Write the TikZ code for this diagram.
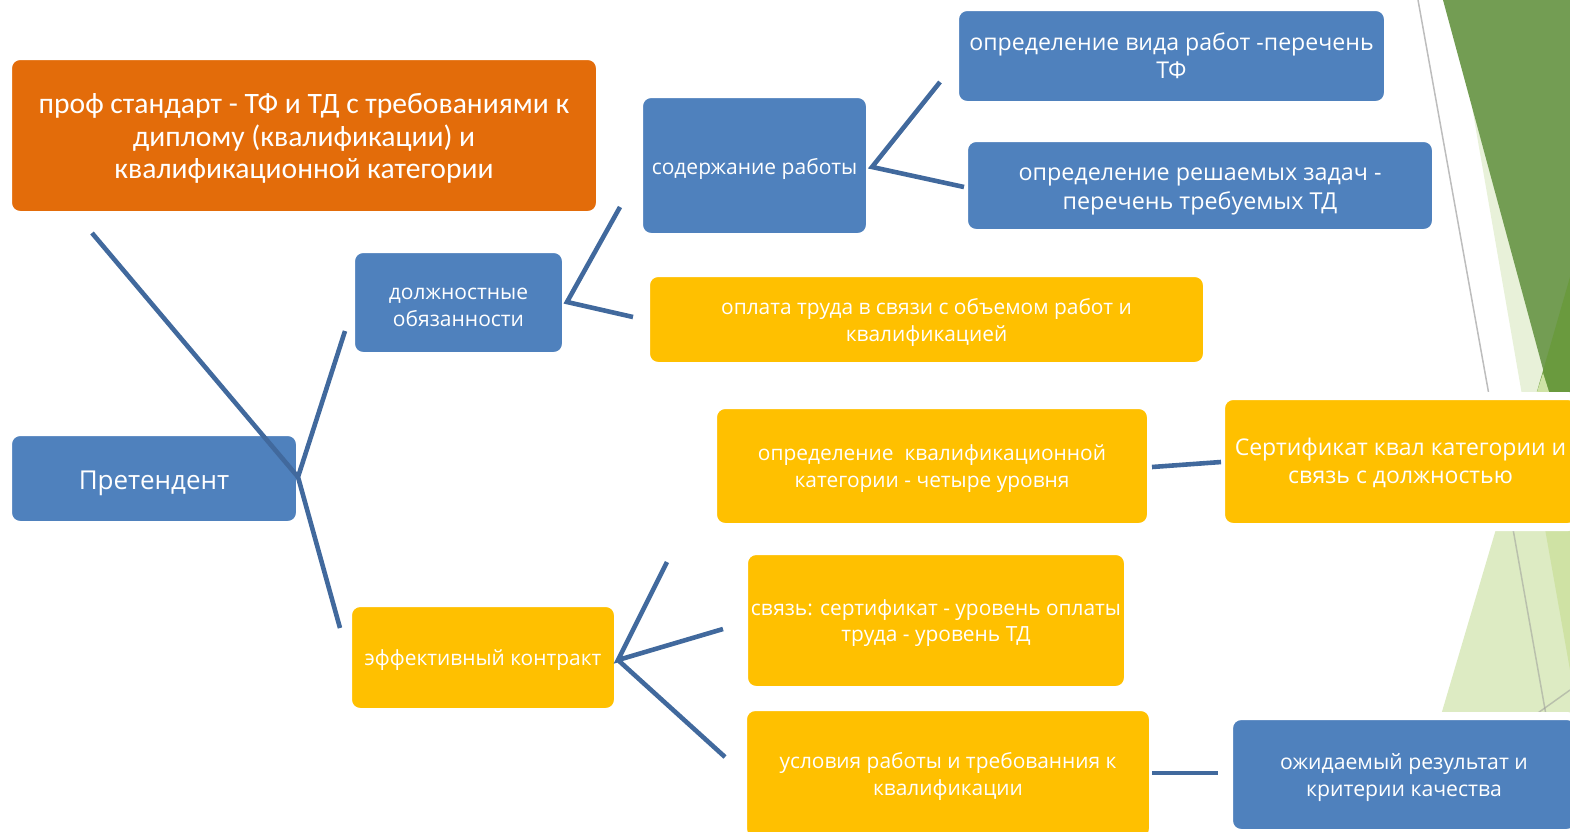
\documentclass[tikz,border=0pt]{standalone}
\usepackage{fontspec}
\setmainfont{Carlito}
\newfontfamily\osf{Open Sans}
\definecolor{bbox}{HTML}{4F81BD}
\definecolor{obox}{HTML}{E36C0A}
\definecolor{ybox}{HTML}{FFC000}
\definecolor{lnk}{HTML}{41699D}
\definecolor{gM}{HTML}{739D53}
\definecolor{gD}{HTML}{6A9A3E}
\definecolor{gL}{HTML}{E8F1D9}
\definecolor{gLL}{HTML}{CFE3A5}
\definecolor{gB}{HTML}{DDEBC3}
\definecolor{gB2}{HTML}{CFE2A4}
\definecolor{gline}{HTML}{BDBDBD}
\tikzset{
  box/.style={draw=white, line width=8pt, rounded corners=12pt, text=white,
    align=center, inner sep=0pt},
  bluebox/.style={box, fill=bbox},
  orbox/.style={box, fill=obox},
  yelbox/.style={box, fill=ybox},
  conn/.style={draw=lnk, line width=4.6pt}
}
\newcommand{\fs}[2]{\fontsize{#1}{#2}\selectfont}
\newcommand{\os}[2]{\osf\fontsize{#1}{#2}\selectfont}
\newcommand{\st}{\rule{0pt}{1.05em}}
\newcommand{\sto}{\rule{0pt}{0.88em}}
\begin{document}
\begin{tikzpicture}[x=1pt,y=-1pt]
\useasboundingbox (0,0) rectangle (1570,831);
\clip (0,0) rectangle (1570,831);
% background decoration
\fill[gL] (1472,107) -- (1552,395) -- (1522,395) -- cycle;
\fill[gM] (1443,0) -- (1570,0) -- (1570,395) -- (1550,395) -- cycle;
\fill[gD] (1570,277) -- (1536,395) -- (1570,395) -- cycle;
\fill[gLL] (1543,373) -- (1550,395) -- (1536,395) -- cycle;
\fill[gB] (1496,529) -- (1570,529) -- (1570,715) -- (1441,715) -- cycle;
\fill[gB2] (1545,529) -- (1570,529) -- (1570,670) -- cycle;
\draw[gline, line width=1.5pt] (1418,0) -- (1489,395);
\draw[gline!80!black, opacity=0.5, line width=1.5pt] (1513,529) -- (1546,715);
\draw[gline!80!black, opacity=0.5, line width=1.5pt] (1535,715) -- (1570,690);
% nodes
\node[orbox, minimum width=592, minimum height=159, font=\fs{29.6}{32.5}] (prof) at (304,135.5)
  {\sto проф стандарт - ТФ и ТД с требованиями к\\диплому (квалификации) и\\квалификационной категории};
\node[bluebox, minimum width=292, minimum height=93, font=\os{26}{30}] (pret) at (154,478.5)
  {\st Претендент};
\node[bluebox, minimum width=215, minimum height=107, font=\os{21}{27}] (dolzh) at (458.5,302.5)
  {\st должностные\\обязанности};
\node[bluebox, minimum width=231, minimum height=143, font=\os{21}{27}] (soder) at (754.5,165.5)
  {\st содержание работы};
\node[bluebox, minimum width=433, minimum height=98, font=\os{23.1}{28}] (vid) at (1171.5,56)
  {определение вида работ -перечень\\ТФ};
\node[bluebox, minimum width=472, minimum height=95, font=\os{23.3}{29}] (zad) at (1200,185.5)
  {\st определение решаемых задач -\\перечень требуемых ТД};
\node[yelbox, minimum width=561, minimum height=93, font=\os{20.9}{27}] (opl) at (926.5,319.5)
  {\st оплата труда в связи с объемом работ и\\квалификацией};
\node[yelbox, minimum width=438, minimum height=122, font=\os{20.9}{27}] (kval) at (932,466)
  {\st определение\ \ квалификационной\\категории - четыре уровня};
\node[yelbox, minimum width=359, minimum height=131, font=\os{23}{28}] (sert) at (1400.5,461.5)
  {\sto Сертификат квал категории и\\связь с должностью};
\node[yelbox, minimum width=270, minimum height=109, font=\os{20.9}{27}] (eff) at (483,657.5)
  {\st эффективный контракт};
\node[yelbox, minimum width=384, minimum height=139, font=\os{20.9}{26}] (svyaz) at (936,620.5)
  {\st связь: сертификат - уровень оплаты\\труда - уровень ТД};
\node[yelbox, minimum width=410, minimum height=134, font=\os{20.9}{27}] (usl) at (948,774)
  {\st условия работы и требованния к\\квалификации};
\node[bluebox, minimum width=350, minimum height=117, font=\os{21.2}{27}] (ozh) at (1404,774.5)
  {\st ожидаемый результат и\\критерии качества};
% connector end points
\coordinate (pj) at (298,477);
\coordinate (pProf) at (92,233);
\coordinate (pDol) at (345,331);
\coordinate (pEff) at (340,628);
\coordinate (dj) at (567,302);
\coordinate (dSod) at (620,207);
\coordinate (dOpl) at (633,317);
\coordinate (sj) at (872,167);
\coordinate (sVid) at (940,82);
\coordinate (sZad) at (964,187);
\coordinate (ej) at (618,660);
\coordinate (eKv) at (667,562);
\coordinate (eSv) at (723,629);
\coordinate (eUs) at (725,757);
\coordinate (kA) at (1152,467);
\coordinate (kB) at (1221,462);
\coordinate (uA) at (1152,773);
\coordinate (uB) at (1218,773);
% connectors
\draw[conn] (pProf) -- (pj);
\draw[conn] (pDol) -- (pj) -- (pEff);
\draw[conn] (dSod) -- (dj) -- (dOpl);
\draw[conn] (sVid) -- (sj) -- (sZad);
\draw[conn] (eKv) -- (ej) -- (eSv);
\draw[conn] (ej) -- (eUs);
\draw[conn] (kA) -- (kB);
\draw[conn] (uA) -- (uB);
\end{tikzpicture}
\end{document}
